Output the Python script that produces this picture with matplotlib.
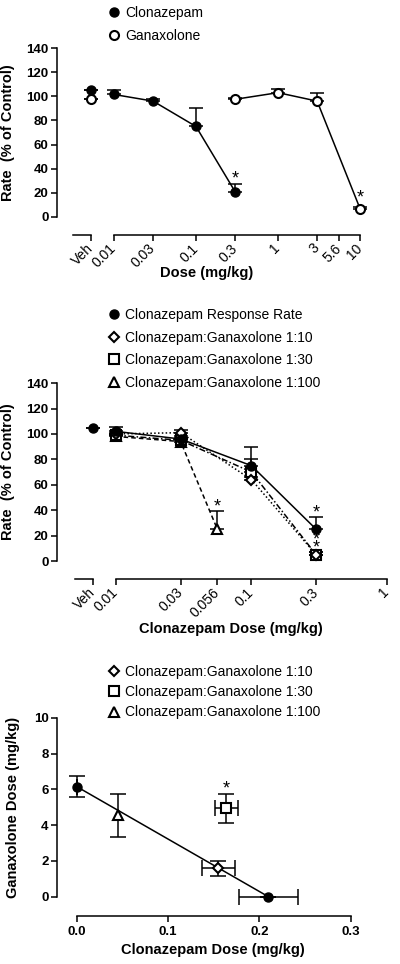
import matplotlib
matplotlib.use('Agg')
import matplotlib.pyplot as plt
import matplotlib.transforms as mtransforms
from matplotlib.lines import Line2D
from matplotlib.ticker import NullLocator
import numpy as np

plt.rcParams['font.family'] = ['Liberation Sans', 'DejaVu Sans']
plt.rcParams['axes.linewidth'] = 1.1

# ---- panel 1: single drugs ----
veh1 = 0.0052
p1_ticks = [veh1, 0.01, 0.03, 0.1, 0.3, 1, 3, 5.6, 10]
p1_labels = ['Veh', '0.01', '0.03', '0.1', '0.3', '1', '3', '5.6', '10']
clon1_x = [veh1, 0.01, 0.03, 0.1, 0.3]
clon1_y = [105, 101.5, 96, 75, 21]
clon1_err = [0, 4, 1.5, 15, 6]
gan1_x = [veh1, 0.3, 1, 3, 10]
gan1_y = [97.5, 97.5, 103, 96, 7]
gan1_err = [0, 1, 3, 7, 1]

# ---- panel 2: mixtures ----
veh2 = 0.0068
p2_ticks = [veh2, 0.01, 0.03, 0.056, 0.1, 0.3, 1]
p2_labels = ['Veh', '0.01', '0.03', '0.056', '0.1', '0.3', '1']
clon2_x = [veh2, 0.01, 0.03, 0.1, 0.3]
clon2_y = [105, 102, 96, 75, 25]
clon2_err = [0, 3.5, 2, 15, 10]
r10_x = [0.01, 0.03, 0.1, 0.3]
r10_y = [100, 101, 64, 5]
r10_err = [1, 2, 2, 2]
r30_x = [0.01, 0.03, 0.1, 0.3]
r30_y = [99, 95, 70, 5]
r30_err = [1, 2, 10, 2]
r100_x = [0.01, 0.03, 0.056]
r100_y = [98, 94, 25]
r100_err = [1, 2, 14]

# ---- panel 3: isobologram ----
add_x = [0, 0.21]
add_y = [6.15, 0]
add_xerr = [0, 0.032]
add_yerr = [0.6, 0]
iso_x = [0.155, 0.164, 0.0455]
iso_y = [1.58, 4.94, 4.56]
iso_xerr = [0.018, 0.013, 0.0]
iso_yerr = [0.42, 0.8, 1.2]
iso_marker = ['D', 's', '^']
iso_msize = [5.5, 7, 7.5]
iso_names = ['Clonazepam:Ganaxolone 1:10', 'Clonazepam:Ganaxolone 1:30',
             'Clonazepam:Ganaxolone 1:100']

fig = plt.figure(figsize=(4, 9.64), dpi=100)
ax1 = fig.add_axes([0.1425, 0.7749, 0.7575, 0.1753])
ax2 = fig.add_axes([0.1425, 0.418, 0.825, 0.1846])
ax3 = fig.add_axes([0.1425, 0.0698, 0.734, 0.1857])

tickfont = dict(fontsize=9.5, fontweight='bold')
labfont = dict(fontsize=10.5, fontweight='bold')
LW = 1.1
OPEN = dict(mfc='white', mec='black', mew=1.5)
FILL = dict(mfc='black', mec='black', mew=1)

ls_map = {'solid': '-', 'dot': (0, (1, 1.5)), 'dashdot': (0, (4, 1.5, 1, 1.5)),
          'dash': (0, (3, 2))}


def dose_axis(ax, lo, hi, veh, veh_lo, ticks, labels):
    ax.set_xscale('log')
    ax.set_xlim(lo, hi)
    ax.xaxis.set_minor_locator(NullLocator())
    ax.set_xticks(ticks)
    ax.set_xticklabels(labels, **tickfont)
    ax.spines['bottom'].set_position(('outward', 13))
    ax.spines['bottom'].set_bounds(0.01, hi)
    trans = mtransforms.blended_transform_factory(ax.transData, ax.transAxes) + \
        mtransforms.ScaledTranslation(0, -13 / 72, fig.dpi_scale_trans)
    ax.add_line(Line2D([veh_lo, veh], [0, 0], transform=trans, color='black',
                       lw=LW, clip_on=False))
    ax.set_ylim(0, 140)
    ax.set_yticks(np.arange(0, 141, 20))
    ax.set_yticklabels([str(v) for v in range(0, 141, 20)], **tickfont)
    ax.tick_params(axis='both', direction='out', length=4, width=LW, pad=2)
    ax.tick_params(axis='x', pad=4)
    plt.setp(ax.get_xticklabels(), rotation=45, ha='right', va='center',
             rotation_mode='anchor')


def series(ax, x, y, err, marker, style, ms, line='solid', skip_first=False):
    ax.errorbar(x, y, yerr=[np.zeros(len(err)), err], fmt='none', ecolor='black',
                elinewidth=LW, capsize=5, capthick=LW, zorder=2, clip_on=False)
    xs, ys = (x[1:], y[1:]) if skip_first else (x, y)
    ax.plot(xs, ys, color='black', lw=LW, ls=ls_map[line], zorder=2, clip_on=False)
    ax.plot(x, y, ls='none', marker=marker, ms=ms, zorder=4, clip_on=False, **style)


def star(ax, x, y, dy=0):
    ax.annotate('*', xy=(x, y), xytext=(0, dy), textcoords='offset points',
                ha='center', va='bottom', fontsize=13)


for ax in (ax1, ax2, ax3):
    ax.spines['top'].set_visible(False)
    ax.spines['right'].set_visible(False)

# panel 1
dose_axis(ax1, 0.00202, 10, veh1, 0.0032, p1_ticks, p1_labels)
series(ax1, clon1_x, clon1_y, clon1_err, 'o', FILL, 6.5, skip_first=True)
series(ax1, gan1_x, gan1_y, gan1_err, 'o', OPEN, 6.5, skip_first=True)
star(ax1, clon1_x[-1], clon1_y[-1] + clon1_err[-1], dy=-2.1)
star(ax1, gan1_x[-1], gan1_y[-1], dy=1.4)
ax1.set_xlabel('Dose (mg/kg)', **labfont)
ax1.xaxis.set_label_coords(0.495, -0.29)
ax1.set_ylabel('Rate  (% of Control)', **labfont)
ax1.yaxis.set_label_coords(-0.139, 0.5)
h1 = [Line2D([], [], ls='none', marker='o', ms=6.5, **FILL),
      Line2D([], [], ls='none', marker='o', ms=6.5, **OPEN)]
ax1.legend(h1, ['Clonazepam', 'Ganaxolone'], loc='upper left',
           bbox_to_anchor=(0.271, 0.9938), bbox_transform=fig.transFigure,
           frameon=False, fontsize=10, handlelength=0.8, handletextpad=0.4,
           labelspacing=0.65, borderpad=0, borderaxespad=0)

# panel 2
dose_axis(ax2, 0.00367, 1, veh2, 0.005, p2_ticks, p2_labels)
series(ax2, r100_x, r100_y, r100_err, '^', OPEN, 7.5, 'dash')
series(ax2, r30_x, r30_y, r30_err, 's', OPEN, 7, 'dashdot')
series(ax2, r10_x, r10_y, r10_err, 'D', OPEN, 5.5, 'dot')
series(ax2, clon2_x, clon2_y, clon2_err, 'o', FILL, 6.5, skip_first=True)
star(ax2, clon2_x[-1], clon2_y[-1] + clon2_err[-1], dy=-3.2)
star(ax2, r100_x[-1], r100_y[-1] + r100_err[-1], dy=-3.1)
star(ax2, r30_x[-1], r30_y[-1] + r30_err[-1], dy=-3.2)
star(ax2, r10_x[-1], r10_y[-1] + r10_err[-1], dy=2.5)
ax2.set_xlabel('Clonazepam Dose (mg/kg)', **labfont)
ax2.xaxis.set_label_coords(0.527, -0.345)
ax2.set_ylabel('Rate  (% of Control)', **labfont)
ax2.yaxis.set_label_coords(-0.127, 0.5)
h2 = [Line2D([], [], ls='none', marker='o', ms=6.5, **FILL),
      Line2D([], [], ls='none', marker='D', ms=5.5, **OPEN),
      Line2D([], [], ls='none', marker='s', ms=7, **OPEN),
      Line2D([], [], ls='none', marker='^', ms=7.5, **OPEN)]
ax2.legend(h2, ['Clonazepam Response Rate'] + iso_names, loc='upper left',
           bbox_to_anchor=(0.271, 0.6805), bbox_transform=fig.transFigure,
           frameon=False, fontsize=10, handlelength=0.8, handletextpad=0.4,
           labelspacing=0.62, borderpad=0, borderaxespad=0)

# panel 3
ax3.errorbar(add_x, add_y, xerr=add_xerr, yerr=add_yerr, fmt='-', color='black',
             lw=LW, elinewidth=LW, capsize=6, capthick=LW, marker='o', ms=6.5,
             mfc='black', mec='black', zorder=3, clip_on=False)
for x, y, xe, ye, m, ms in zip(iso_x, iso_y, iso_xerr, iso_yerr, iso_marker, iso_msize):
    ax3.errorbar([x], [y], xerr=[xe] if xe else None, yerr=[ye], fmt='none',
                 ecolor='black', elinewidth=LW, capsize=6, capthick=LW, zorder=3)
    ax3.plot([x], [y], ls='none', marker=m, ms=ms, zorder=4, **OPEN)
star(ax3, iso_x[1], iso_y[1] + iso_yerr[1], dy=-2.4)
ax3.set_xlim(-0.0216, 0.3)
ax3.set_ylim(0, 10)
ax3.spines['bottom'].set_position(('outward', 14))
ax3.spines['bottom'].set_bounds(0, 0.3)
ax3.set_xticks([0, 0.1, 0.2, 0.3])
ax3.set_xticklabels(['0.0', '0.1', '0.2', '0.3'], **tickfont)
ax3.set_yticks(np.arange(0, 11, 2))
ax3.set_yticklabels([str(v) for v in range(0, 11, 2)], **tickfont)
ax3.tick_params(axis='both', direction='out', length=4, width=LW, pad=2)
ax3.tick_params(axis='x', pad=3)
ax3.set_xlabel('Clonazepam Dose (mg/kg)', **labfont)
ax3.xaxis.set_label_coords(0.531, -0.26)
ax3.set_ylabel('Ganaxolone Dose (mg/kg)', **labfont)
ax3.yaxis.set_label_coords(-0.126, 0.5)
h3 = [Line2D([], [], ls='none', marker=m, ms=ms, **OPEN)
      for m, ms in zip(iso_marker, iso_msize)]
ax3.legend(h3, iso_names, loc='upper left',
           bbox_to_anchor=(0.271, 0.3102), bbox_transform=fig.transFigure,
           frameon=False, fontsize=10, handlelength=0.8, handletextpad=0.4,
           labelspacing=0.45, borderpad=0, borderaxespad=0)

fig.savefig('out.png', dpi=100)
